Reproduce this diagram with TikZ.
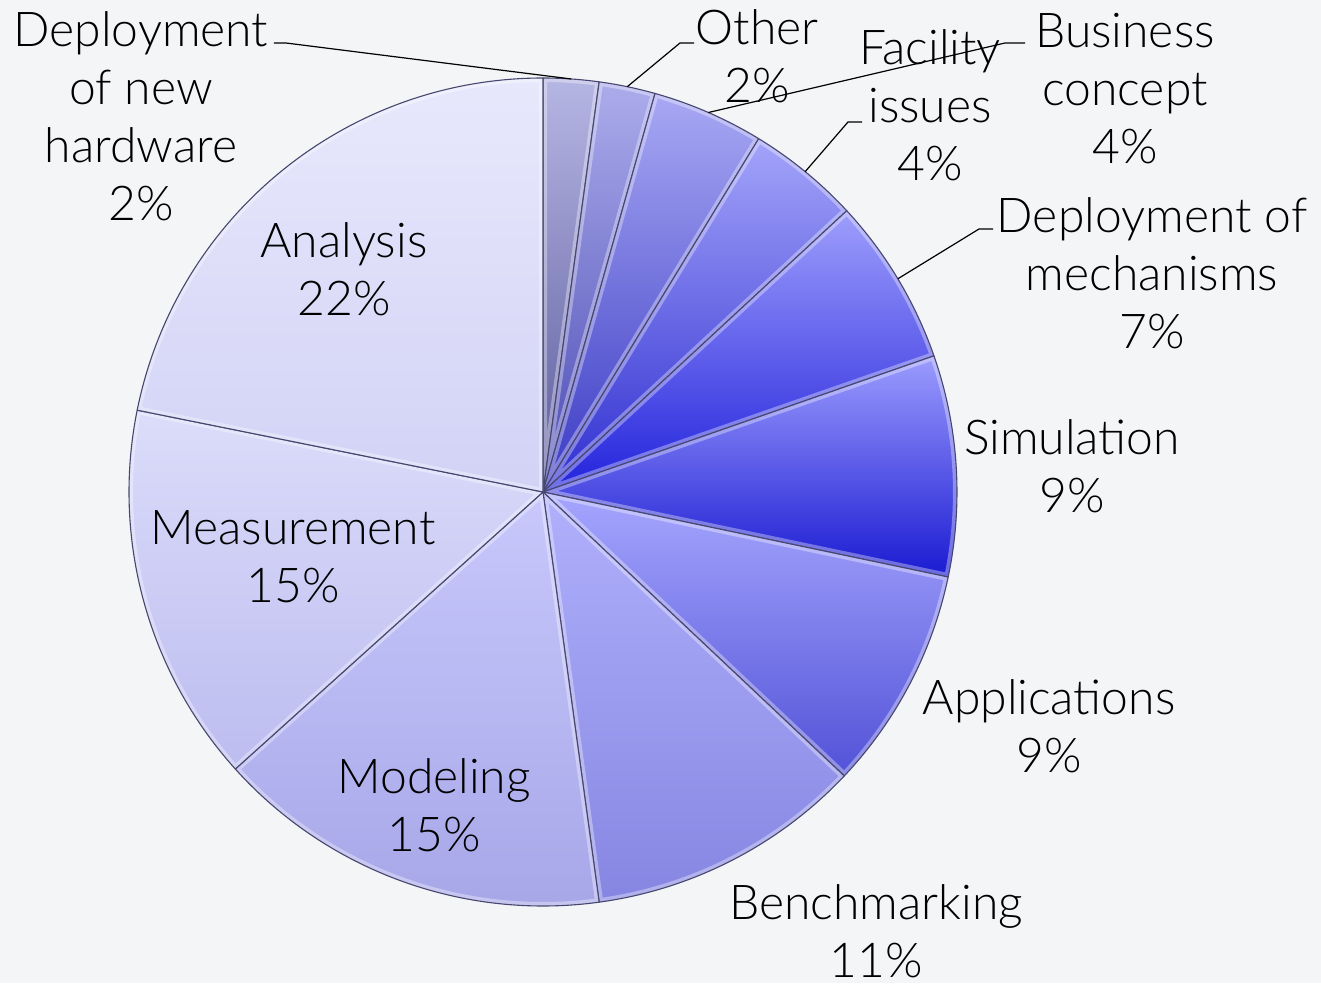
\documentclass[tikz,border=0pt]{standalone}
\usepackage{fontspec}
\setmainfont{Lato Light}
\definecolor{bg}{HTML}{F4F5F7}
\definecolor{edgec}{HTML}{46466E}
\definecolor{tA}{HTML}{B6B6E4}\definecolor{bA}{HTML}{5A5A9C}
\definecolor{tB}{HTML}{ACACEC}\definecolor{bB}{HTML}{4A4AB4}
\definecolor{tC}{HTML}{A8A8F4}\definecolor{bC}{HTML}{3A3AC4}
\definecolor{tD}{HTML}{A4A4FA}\definecolor{bD}{HTML}{2E2ED0}
\definecolor{tE}{HTML}{9E9EFC}\definecolor{bE}{HTML}{2222DC}
\definecolor{tF}{HTML}{9C9CFE}\definecolor{bF}{HTML}{1A1AD2}
\definecolor{tG}{HTML}{A6A6FE}\definecolor{bG}{HTML}{5252D8}
\definecolor{tH}{HTML}{B0B0FC}\definecolor{bH}{HTML}{8686E2}
\definecolor{tI}{HTML}{C8C8FC}\definecolor{bI}{HTML}{A6A6E8}
\definecolor{tJ}{HTML}{DCDCFA}\definecolor{bJ}{HTML}{BCBCF0}
\definecolor{tK}{HTML}{E8E8FC}\definecolor{bK}{HTML}{D2D2F6}
\tikzset{
  lbl/.style={font=\fontsize{48}{58}\selectfont, align=center, inner sep=0pt, text=black},
  leader/.style={draw=black, line width=1.2pt},
  sliceedge/.style={draw=edgec, line width=1.1pt, line join=round},
  bevel/.style={draw=white, opacity=0.35, line width=8pt, line join=round},
}
\newcommand\pieslice[4]{%
  \shade[top color=#3, bottom color=#4] (0,0) -- (#1:414) arc[start angle=#1, end angle=#2, radius=414] -- cycle;
  \begin{scope}
    \clip (0,0) -- (#1:414) arc[start angle=#1, end angle=#2, radius=414] -- cycle;
    \draw[bevel] (0,0) -- (#1:414) arc[start angle=#1, end angle=#2, radius=414] -- cycle;
  \end{scope}
  \draw[sliceedge] (0,0) -- (#1:414) arc[start angle=#1, end angle=#2, radius=414] -- cycle;
}
\begin{document}
\begin{tikzpicture}[x=1pt,y=1pt]
\fill[bg] (-543,-491) rectangle (778,492);
\useasboundingbox (-543,-491) rectangle (778,492);
% slices (clockwise from top)
\pieslice{90}{82.2}{tA}{bA}
\pieslice{82.2}{74.3}{tB}{bB}
\pieslice{74.3}{58.6}{tC}{bC}
\pieslice{58.6}{42.8}{tD}{bD}
\pieslice{42.8}{19.2}{tE}{bE}
\pieslice{19.2}{-11.85}{tF}{bF}
\pieslice{-11.85}{-43.3}{tG}{bG}
\pieslice{-43.3}{-82.2}{tH}{bH}
\pieslice{-82.2}{-138}{tI}{bI}
\pieslice{-138}{-191.4}{tJ}{bJ}
\pieslice{-191.4}{-270}{tK}{bK}
% labels
\node[lbl] (hw) at (-402,370) {\strut Deployment\\\strut of new\\\strut hardware\\\strut 2\%};
\node[lbl] (oth) at (214,430) {\strut Other\\\strut 2\%};
\node[lbl] (fac) at (387,381) {\strut Facility\\\strut issues\\\strut 4\%};
\node[lbl] (bus) at (582,398) {\strut Business\\\strut concept\\\strut 4\%};
\node[lbl] (mech) at (609,213) {\strut Deployment of\\\strut mechanisms\\\strut 7\%};
\node[lbl] (sim) at (529,20) {\strut Simulation\\\strut 9\%};
\node[lbl] (app) at (506,-240) {\strut Applications\\\strut 9\%};
\node[lbl] (bench) at (333,-445) {\strut Benchmarking\\\strut 11\%};
\node[lbl] (mod) at (-109,-319) {\strut Modeling\\\strut 15\%};
\node[lbl] (meas) at (-250,-70) {\strut Measurement\\\strut 15\%};
\node[lbl] (ana) at (-199,217) {\strut Analysis\\\strut 22\%};
% leader lines
\coordinate (hwS) at (-269,449); \coordinate (hwK) at (-257,449); \coordinate (hwE) at (86.1:414);
\coordinate (othS) at (151,449); \coordinate (othK) at (137,449); \coordinate (othE) at (78.25:414);
\coordinate (busS) at (482,449); \coordinate (busK) at (462,449); \coordinate (busE) at (66.45:414);
\coordinate (facS) at (319,370); \coordinate (facK) at (305,370); \coordinate (facE) at (50.7:414);
\coordinate (mechS) at (450,263); \coordinate (mechK) at (436,263); \coordinate (mechE) at (31.0:414);
\draw[leader] (hwS) -- (hwK) -- (hwE);
\draw[leader] (othS) -- (othK) -- (othE);
\draw[leader] (busS) -- (busK) -- (busE);
\draw[leader] (facS) -- (facK) -- (facE);
\draw[leader] (mechS) -- (mechK) -- (mechE);
\end{tikzpicture}
\end{document}
